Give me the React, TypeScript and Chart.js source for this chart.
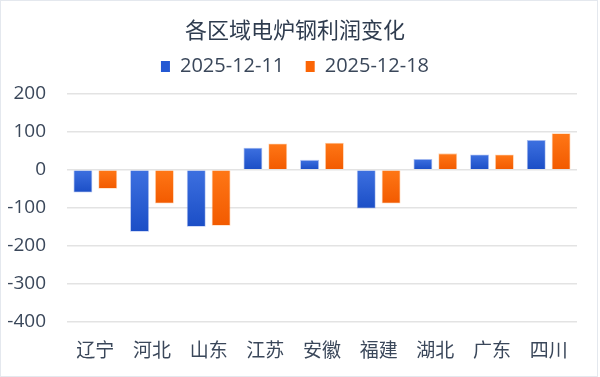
import React, { useEffect, useRef } from "react";
import { Chart, registerables } from "chart.js";

Chart.register(...registerables);

const categories = ["辽宁", "河北", "山东", "江苏", "安徽", "福建", "湖北", "广东", "四川"];
const seriesNames = ["2025-12-11", "2025-12-18"];
const values1211 = [-60, -163, -150, 58, 26, -102, 28, 40, 78];
const values1218 = [-50, -89, -147, 69, 71, -89, 43, 40, 96];
const yTicks = [200, 100, 0, -100, -200, -300, -400];
const title = "各区域电炉钢利润变化";

const FONT = "'Open Sans', 'Noto Sans CJK SC', sans-serif";
const TEXT = "#3a475a";

function gradFill(top: string, bottom: string, solid: string) {
  return (ctx: any) => {
    const chart = ctx.chart;
    const y = chart.scales && chart.scales.y;
    if (!chart.chartArea || !y || ctx.raw === undefined) return solid;
    const v = ctx.raw as number;
    const p0 = y.getPixelForValue(0);
    const p1 = y.getPixelForValue(v);
    const t = Math.min(p0, p1);
    const b = Math.max(p0, p1);
    if (!isFinite(t) || !isFinite(b) || b - t < 1) return solid;
    const g = chart.ctx.createLinearGradient(0, t, 0, b);
    g.addColorStop(0, top);
    g.addColorStop(1, bottom);
    return g;
  };
}

export default function App() {
  const ref = useRef<HTMLCanvasElement | null>(null);
  useEffect(() => {
    if (!ref.current) return;
    const chart = new Chart(ref.current, {
      type: "bar",
      data: {
        labels: categories,
        datasets: [
          {
            label: seriesNames[0],
            data: values1211,
            backgroundColor: gradFill("#3d70e0", "#1b4ec6", "#2a5dd5"),
            borderColor: "rgba(120,150,230,0.6)",
            borderWidth: 0.8,
            barPercentage: 0.76,
            categoryPercentage: 0.877,
          },
          {
            label: seriesNames[1],
            data: values1218,
            backgroundColor: gradFill("#ff7716", "#f25a00", "#fb6a06"),
            borderColor: "rgba(255,180,120,0.6)",
            borderWidth: 0.8,
            barPercentage: 0.76,
            categoryPercentage: 0.877,
          },
        ],
      },
      options: {
        animation: false,
        responsive: false,
        maintainAspectRatio: false,
        layout: { padding: { left: 0, right: 8, top: 0, bottom: 0 } },
        plugins: {
          title: {
            display: true,
            text: title,
            color: "#2f3c4f",
            font: { family: FONT, size: 22, weight: "normal" },
            padding: { top: 18, bottom: 0 },
          },
          subtitle: {
            display: true,
            text: "",
            weight: 500,
            font: { size: 1 },
            padding: { top: 0, bottom: 6 },
          } as any,
          legend: {
            display: true,
            labels: {
              color: TEXT,
              font: { family: FONT, size: 20 },
              boxWidth: 9,
              boxHeight: 11,
              padding: 11,
              generateLabels: (c: any) =>
                c.data.datasets.map((d: any, i: number) => ({
                  text: i === 0 ? d.label + "  " : d.label,
                  fillStyle: i === 0 ? "#2458d3" : "#fb6505",
                  strokeStyle: "rgba(0,0,0,0)",
                  lineWidth: 0,
                  hidden: false,
                  datasetIndex: i,
                  fontColor: TEXT,
                })),
            },
          },
          tooltip: { enabled: false },
        },
        scales: {
          x: {
            grid: { display: false, drawTicks: false },
            border: { display: false },
            ticks: {
              color: TEXT,
              font: { family: FONT, size: 19 },
              padding: 18,
              maxRotation: 0,
              autoSkip: false,
            },
            afterFit: (s: any) => {
              s.height = 54;
            },
          },
          y: {
            min: -400,
            max: 200,
            afterBuildTicks: (s: any) => {
              s.ticks = yTicks.map((v) => ({ value: v }));
            },
            grid: { color: "#e3e3e3", lineWidth: 1.5, drawTicks: false },
            border: { display: false },
            ticks: {
              color: TEXT,
              font: { family: FONT, size: 19 },
              padding: 21,
            },
            afterFit: (s: any) => {
              s.width = 66;
            },
          },
          yRightSpacer: {
            type: "linear",
            position: "right",
            display: true,
            grid: { display: false, drawTicks: false },
            border: { display: false },
            ticks: { display: false },
            afterFit: (s: any) => {
              s.width = 12;
            },
          },
        },
      },
    });
    return () => chart.destroy();
  }, []);
  return (
    <div
      style={{
        position: "fixed",
        left: 0,
        top: 0,
        width: 596,
        height: 375,
        border: "1px solid #e4e8ee",
        background: "#fff",
        overflow: "hidden",
      }}
    >
      <canvas ref={ref} width={596} height={375} style={{ display: "block" }} />
    </div>
  );
}
